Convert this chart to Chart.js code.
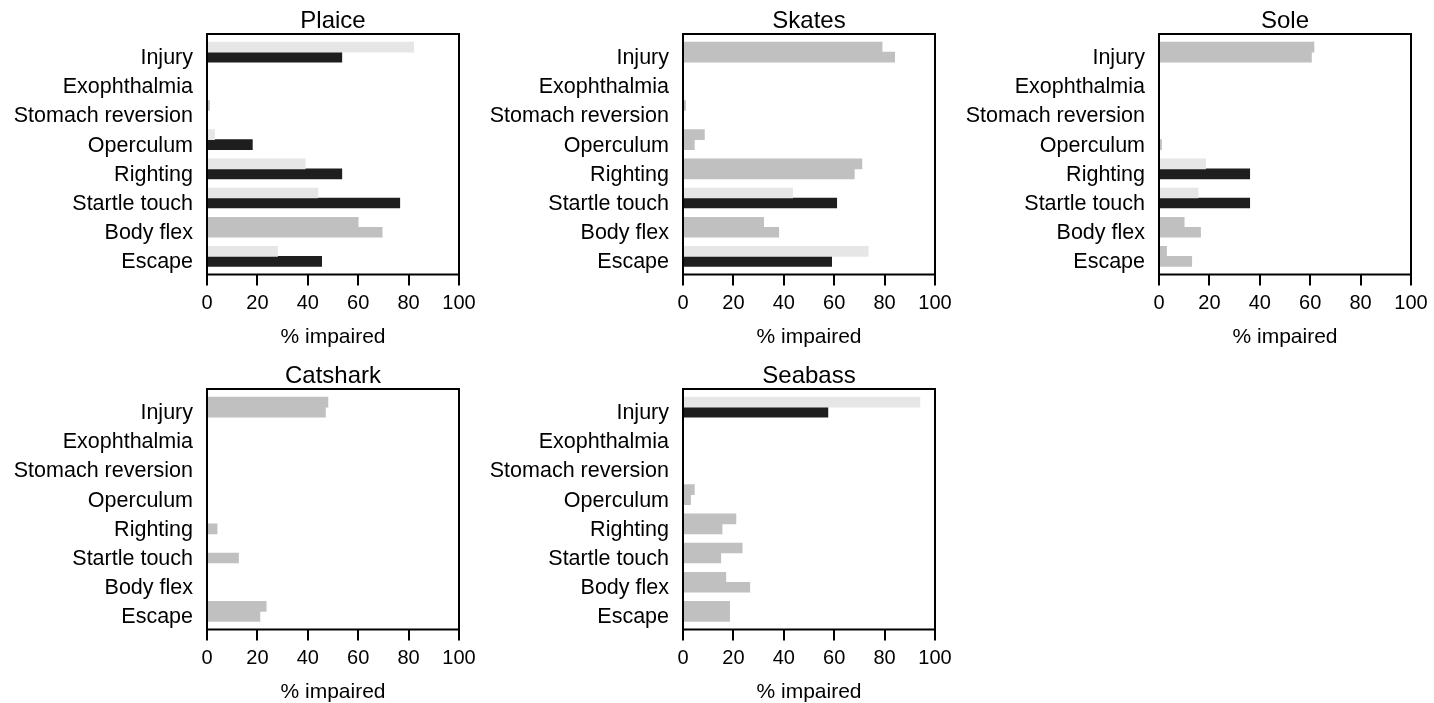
<!DOCTYPE html>
<html>
<head>
<meta charset="utf-8">
<title>% impaired</title>
<script src="https://cdn.jsdelivr.net/npm/chart.js@4/dist/chart.umd.min.js"></script>
<style>
	html, body { margin: 0; padding: 0; background: #fff; overflow: hidden; }
	.panel { position: absolute; width: 476px; height: 350px; }
</style>
</head>
<body>
<div class="panel" style="left: 0; top: 0;"><canvas id="chart-plaice" width="476" height="350"></canvas></div>
<div class="panel" style="left: 476px; top: 0;"><canvas id="chart-skates" width="476" height="350"></canvas></div>
<div class="panel" style="left: 952px; top: 0;"><canvas id="chart-sole" width="476" height="350"></canvas></div>
<div class="panel" style="left: 0; top: 355px;"><canvas id="chart-catshark" width="476" height="350"></canvas></div>
<div class="panel" style="left: 476px; top: 355px;"><canvas id="chart-seabass" width="476" height="350"></canvas></div>
<script>
const Categories = [ "Injury", "Exophthalmia", "Stomach reversion", "Operculum", "Righting",
		"Startle touch", "Body flex", "Escape" ];
const XTicks = [ 0, 20, 40, 60, 80, 100 ];

	// upper / lower bar of each pair, and whether the pair is shown as different
const PlaiceUpper = [ 82, 0, 1, 3, 39, 44, 60, 28 ];
const PlaiceLower = [ 53.5, 0, 0, 18, 53.5, 76.5, 69.5, 45.5 ];
const PlaiceDiffers = [ true, false, false, true, true, true, false, true ];

const SkatesUpper = [ 79, 0, 1, 8.5, 71, 43.5, 32, 73.5 ];
const SkatesLower = [ 84, 0, 0, 4.5, 68, 61, 38, 59 ];
const SkatesDiffers = [ false, false, false, false, false, true, false, true ];

const SoleUpper = [ 61.5, 0, 0, 0, 18.5, 15.5, 10, 3 ];
const SoleLower = [ 60.5, 0, 0, 1, 36, 36, 16.5, 13 ];
const SoleDiffers = [ false, false, false, false, true, true, false, false ];

const CatsharkUpper = [ 48, 0, 0, 0, 0, 0, 0, 23.5 ];
const CatsharkLower = [ 47, 0, 0, 0, 4, 12.5, 0, 21 ];
const CatsharkDiffers = [ false, false, false, false, false, false, false, false ];

const SeabassUpper = [ 94, 0, 0, 4.5, 21, 23.5, 17, 18.5 ];
const SeabassLower = [ 57.5, 0, 0, 3, 15.5, 15, 26.5, 18.5 ];
const SeabassDiffers = [ true, false, false, false, false, false, false, false ];

const ColorLight = "#e6e6e6";
const ColorMid = "#c0c0c0";
const ColorDark = "#1e1e1e";
const FontFamily = "'Liberation Sans', Arial, sans-serif";

Chart.defaults.font.family = FontFamily;
Chart.defaults.color = "#000";

	/// box round the plot area
const frame = {
	id: "frame",
	afterDatasetsDraw(chart)
	{
		const { ctx, chartArea: { left, top, width, height } } = chart;
		ctx.save();
		ctx.strokeStyle = "#000";
		ctx.lineWidth = 2;
		ctx.strokeRect(left, top, width, height);
		ctx.restore();
	}
};

function Rows(values)
{
	return values.map((v, i) => ({ x: v, y: i }));
}

function DrawPanel(id, title, upper, lower, differs)
{
	new Chart(document.getElementById(id), {
		type: "bar",
		data: {
			datasets: [{
				label: "upper",
				data: Rows(upper),
				backgroundColor: differs.map(d => d ? ColorLight : ColorMid),
				borderWidth: 0,
				barThickness: 10,
			},
			{
				label: "lower",
				data: Rows(lower),
				backgroundColor: differs.map(d => d ? ColorDark : ColorMid),
				borderWidth: 0,
				barThickness: 10,
			}]
		},
		options: {
			indexAxis: "y",
			responsive: false,
			animation: false,
			layout: {
				padding: { top: 0, right: 17, bottom: 0, left: 0 }
			},
			plugins: {
				legend: { display: false },
				tooltip: { enabled: false },
				title: {
					display: true,
					text: title,
					fullSize: false,
					color: "#000",
					font: { size: 24, weight: "normal", lineHeight: 1 },
					padding: { top: 9, bottom: 1 },
				},
			},
			scales: {
				x: {
					type: "linear",
					min: 0,
					max: 100,
					afterBuildTicks: scale => { scale.ticks = XTicks.map(v => ({ value: v })); },
					ticks: {
						color: "#000",
						font: { size: 20 },
						padding: 6,
						maxRotation: 0,
					},
					grid: {
						display: true,
						drawOnChartArea: false,
						drawTicks: true,
						tickLength: 11,
						color: "#000",
						lineWidth: 2,
					},
					border: { display: false },
					title: {
						display: true,
						text: "% impaired",
						color: "#000",
						font: { size: 21 },
						padding: { top: 0, bottom: 0 },
					},
					afterFit: scale =>
					{
						scale.height = 75.5;
						scale.paddingLeft = 0;
						scale.paddingRight = 0;
					},
				},
				y: {
					type: "linear",
					offset: false,
					min: -0.62,
					max: 7.62,
					reverse: true,
					ticks: {
						stepSize: 1,
						includeBounds: false,
						autoSkip: false,
						color: "#000",
						font: { size: 21.5 },
						padding: 14,
						labelOffset: 6,
						callback: v => Number.isInteger(v) ? Categories[v] : "",
					},
					grid: { display: false, offset: false, drawTicks: false, tickLength: 0 },
					border: { display: false },
					afterFit: scale => { scale.width = 207; },
				}
			}
		},
		plugins: [ frame ],
	});
}

DrawPanel("chart-plaice", "Plaice", PlaiceUpper, PlaiceLower, PlaiceDiffers);
DrawPanel("chart-skates", "Skates", SkatesUpper, SkatesLower, SkatesDiffers);
DrawPanel("chart-sole", "Sole", SoleUpper, SoleLower, SoleDiffers);
DrawPanel("chart-catshark", "Catshark", CatsharkUpper, CatsharkLower, CatsharkDiffers);
DrawPanel("chart-seabass", "Seabass", SeabassUpper, SeabassLower, SeabassDiffers);
</script>
</body>
</html>
